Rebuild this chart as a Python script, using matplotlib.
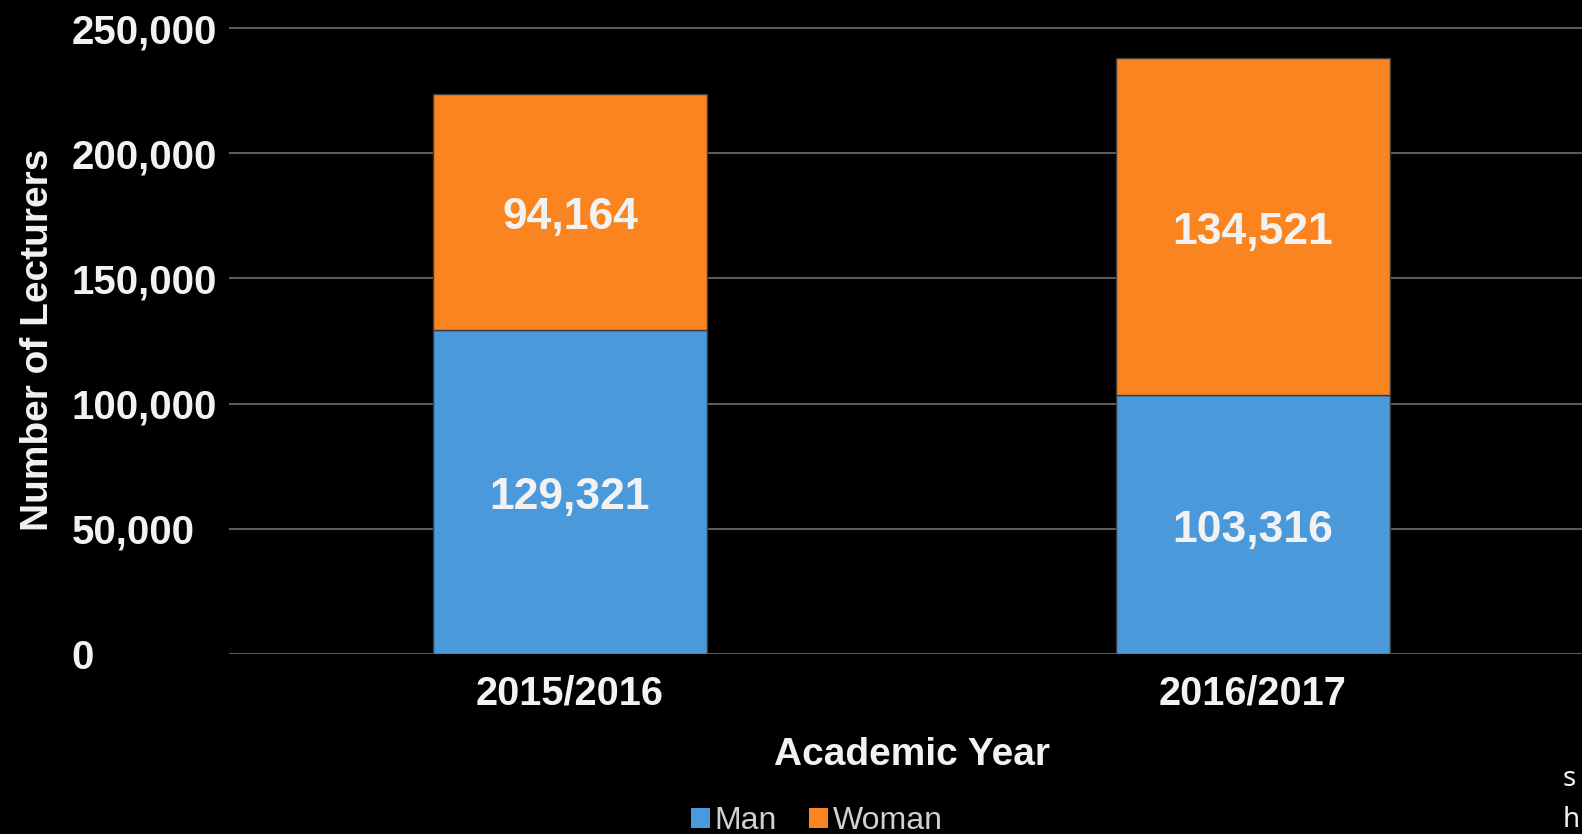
import matplotlib.pyplot as plt
from matplotlib.patches import Patch

years = ["2015/2016", "2016/2017"]
man = [129321, 103316]
woman = [94164, 134521]
yticks = [0, 50000, 100000, 150000, 200000, 250000]

blue = "#4A9ADB"
orange = "#FA8520"
grid_col = "#5a5a5a"
txt = "#f2f2f2"

plt.rcParams["font.family"] = ["Liberation Sans", "DejaVu Sans"]

fig = plt.figure(figsize=(15.82, 8.34), dpi=100, facecolor="black")
# axes runs a little past the right edge, like the cropped original
ax = fig.add_axes([228.5 / 1582, 1 - 654 / 834, 1366 / 1582, 631 / 834])
ax.set_facecolor("black")

x = range(len(years))
ax.bar(x, man, width=0.4, color=blue, edgecolor="#3a3a3a", linewidth=1, zorder=3)
ax.bar(x, woman, width=0.4, bottom=man, color=orange, edgecolor="#3a3a3a",
       linewidth=1, zorder=3)

for i in x:
    ax.annotate(f"{man[i]:,}", xy=(i, man[i] / 2), xytext=(0, -4),
                textcoords="offset points", ha="center", va="center",
                color=txt, fontsize=32, fontweight="bold", zorder=4)
    ax.annotate(f"{woman[i]:,}", xy=(i, man[i] + woman[i] / 2), xytext=(0, -4),
                textcoords="offset points", ha="center", va="center",
                color=txt, fontsize=32, fontweight="bold", zorder=4)

ax.set_xlim(-0.5, 1.5)
ax.set_ylim(0, 252000)
ax.set_yticks(yticks)
ax.set_yticklabels([f"{v:,}" for v in yticks], ha="left")
ax.set_xticks(list(x))
ax.set_xticklabels(years)
ax.tick_params(axis="y", length=0, pad=113, labelsize=29, labelcolor=txt)
ax.tick_params(axis="x", length=0, pad=15, labelsize=28.5, labelcolor=txt)
for lab in ax.get_xticklabels() + ax.get_yticklabels():
    lab.set_fontweight("bold")

ax.grid(axis="y", color=grid_col, linewidth=1.5, zorder=0)
for s in ax.spines.values():
    s.set_visible(False)

fig.text(38 / 1582, 1 - 340 / 834, "Number of Lecturers", rotation=90,
         ha="center", va="center", color=txt, fontsize=28, fontweight="bold")
fig.text(912 / 1582, 1 - 755 / 834, "Academic Year", ha="center", va="center",
         color=txt, fontsize=28, fontweight="bold")

handles = [Patch(facecolor=blue, label="Man"), Patch(facecolor=orange, label="Woman")]
fig.legend(handles=handles, loc="center", bbox_to_anchor=(817 / 1582, 1 - 821 / 834),
           ncol=2, frameon=False, fontsize=23, labelcolor="#d0d0d0",
           handlelength=0.6, handleheight=0.6, handletextpad=0.15,
           columnspacing=1.0, borderpad=0)

# source note that sits at the right edge
fig.text(1563 / 1582, 1 - 786 / 834, "s", ha="left", va="baseline",
         color=txt, fontsize=20, family="Noto Sans", fontweight="light")
fig.text(1563 / 1582, 0.0, "h", ha="left", va="bottom",
         color=txt, fontsize=20, family="Noto Sans", fontweight="light")

fig.savefig("out.png", dpi=100, facecolor="black")
